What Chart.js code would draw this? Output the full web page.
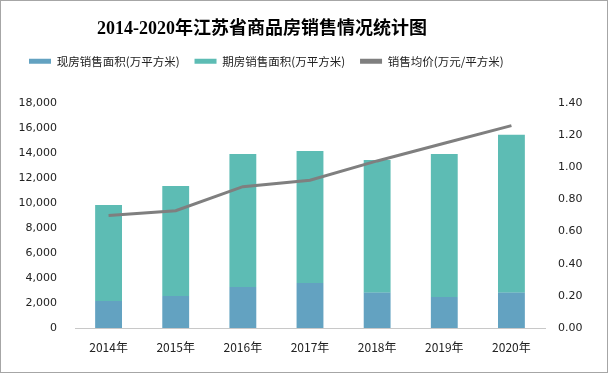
<!DOCTYPE html>
<html>
<head>
<meta charset="utf-8">
<script src="https://cdn.jsdelivr.net/npm/chart.js@4.4.0/dist/chart.umd.min.js"></script>
<style>
  body { margin: 0; background: #fff; }
  #wrap { width: 608px; height: 373px; box-sizing: border-box; border: 1px solid #a6a6a6; }
</style>
</head>
<body>
<div id="wrap"><canvas id="chart" width="606" height="371"></canvas></div>
<script>
// 年份
var years = ['2014年', '2015年', '2016年', '2017年', '2018年', '2019年', '2020年'];
// 现房销售面积(万平方米)
var xianfang = [2160, 2560, 3280, 3600, 2830, 2480, 2830];
// 期房销售面积(万平方米)
var qifang = [7690, 8800, 10640, 10560, 10610, 11440, 12640];
// 销售均价(万元/平方米)
var junjia = [0.70, 0.73, 0.88, 0.92, 1.04, 1.15, 1.26];

var tickFont = { family: "'DejaVu Sans', sans-serif", size: 11 };

// Legende und Titel etwas nach links schieben, Legende etwas höher machen
var layoutFix = {
  id: 'layoutFix',
  beforeInit: function(chart) {
    var origFit = chart.legend.fit;
    chart.legend.fit = function() {
      origFit.bind(chart.legend)();
      this.height += 26;
    };
  },
  afterLayout: function(chart) {
    chart.titleBlock.right = 522;
    chart.legend.left = chart.legend.left + 13;
  }
};

var ctx = document.getElementById('chart');
var myChart = new Chart(ctx, {
  data: {
    labels: years,
    datasets: [
      {
        type: 'bar',
        label: '现房销售面积(万平方米)',
        data: xianfang,
        backgroundColor: '#63a2c1',
        stack: 's1',
        yAxisID: 'y',
        order: 1
      },
      {
        type: 'bar',
        label: '期房销售面积(万平方米)',
        data: qifang,
        backgroundColor: '#5dbcb4',
        stack: 's1',
        yAxisID: 'y',
        order: 1
      },
      {
        type: 'line',
        label: '销售均价(万元/平方米)',
        data: junjia,
        borderColor: '#7f7f7f',
        backgroundColor: '#7f7f7f',
        borderWidth: 3,
        pointRadius: 0,
        tension: 0,
        yAxisID: 'y1',
        order: 0
      }
    ]
  },
  options: {
    responsive: false,
    animation: false,
    layout: { padding: 0 },
    datasets: {
      bar: { barPercentage: 0.4, categoryPercentage: 1.0 }
    },
    plugins: {
      title: {
        display: true,
        text: '2014-2020年江苏省商品房销售情况统计图',
        color: '#000',
        font: { family: "'Liberation Serif', 'Noto Sans CJK SC', serif", size: 18, weight: 'bold', lineHeight: 1.2 },
        padding: { top: 18, bottom: 0 }
      },
      legend: {
        position: 'top',
        align: 'start',
        labels: {
          boxWidth: 22,
          boxHeight: 5,
          padding: 15,
          color: '#222',
          font: { family: "'Noto Sans CJK SC', sans-serif", size: 11.5 },
          generateLabels: function(chart) {
            var items = Chart.defaults.plugins.legend.labels.generateLabels(chart);
            items.forEach(function(it) { it.lineWidth = 0; });
            items.sort(function(a, b) { return a.datasetIndex - b.datasetIndex; });
            return items;
          }
        }
      },
      tooltip: { enabled: false }
    },
    scales: {
      x: {
        stacked: true,
        grid: { display: false },
        border: { display: true, color: '#c8c8c8', dash: [2, 1] },
        ticks: { color: '#222', font: { family: "'Noto Sans CJK SC', sans-serif", size: 12 }, padding: 4 },
        afterFit: function(scale) { scale.height = 44; }
      },
      y: {
        stacked: true,
        position: 'left',
        min: 0,
        max: 18000,
        grid: { display: false, drawTicks: false },
        border: { display: false },
        ticks: {
          stepSize: 2000,
          color: '#222',
          font: tickFont,
          padding: 18,
          callback: function(v) { return v.toLocaleString('en-US'); }
        },
        afterFit: function(scale) { scale.width = 74; }
      },
      y1: {
        position: 'right',
        min: 0,
        max: 1.4,
        grid: { display: false, drawTicks: false },
        border: { display: false },
        ticks: {
          stepSize: 0.2,
          color: '#222',
          font: tickFont,
          padding: 13,
          callback: function(v) { return Number(v).toFixed(2); }
        },
        afterFit: function(scale) { scale.width = 62; }
      }
    }
  },
  plugins: [layoutFix]
});
</script>
</body>
</html>
